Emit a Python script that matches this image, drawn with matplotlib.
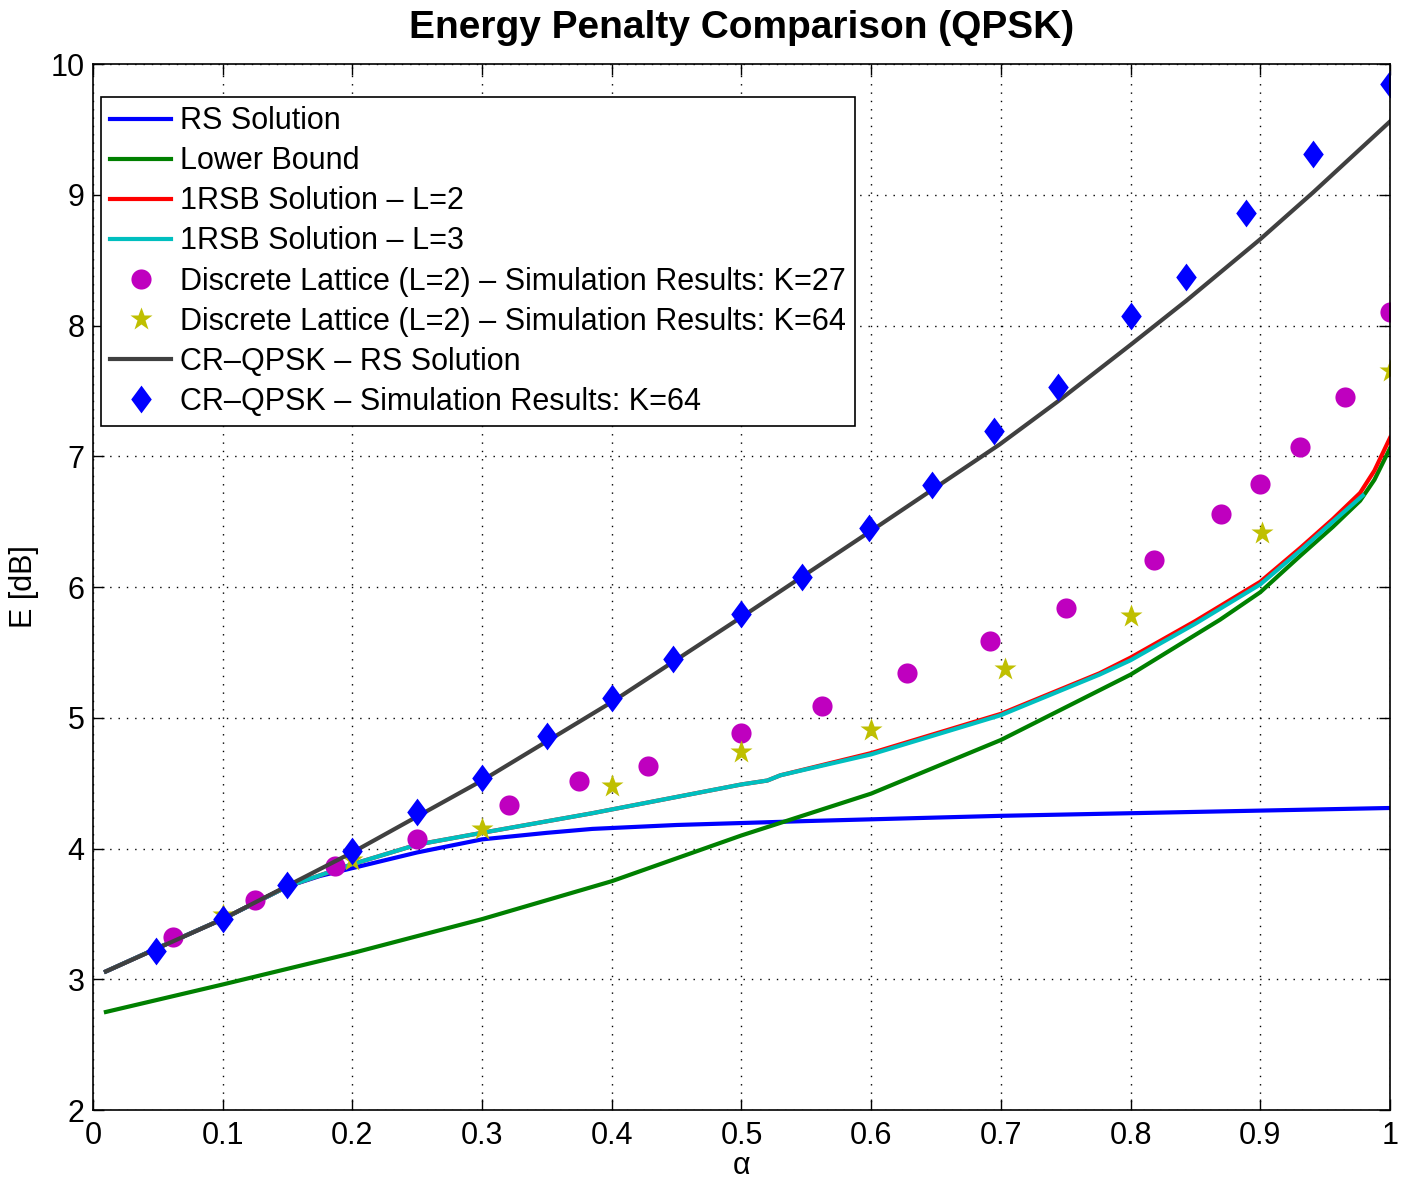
import matplotlib
matplotlib.use("Agg")
import matplotlib.pyplot as plt
import numpy as np

plt.rcParams['font.family'] = ['Liberation Sans', 'DejaVu Sans']

# RS solution
rs_x = [0.01, 0.05, 0.1, 0.15, 0.175, 0.2, 0.25, 0.3, 0.35, 0.385, 0.45, 0.55, 0.7, 0.85, 1.0]
rs_y = [3.06, 3.24, 3.46, 3.71, 3.79, 3.85, 3.97, 4.07, 4.12, 4.15, 4.18, 4.21, 4.25, 4.28, 4.31]

# lower bound
lb_x = [0.01, 0.1, 0.2, 0.3, 0.4, 0.5, 0.6, 0.7, 0.8, 0.869, 0.9, 0.931, 0.956, 0.977, 0.988, 1.0]
lb_y = [2.75, 2.96, 3.2, 3.46, 3.75, 4.1, 4.42, 4.83, 5.33, 5.75, 5.96, 6.24, 6.46, 6.66, 6.82, 7.06]

# 1RSB L=2
r2_x = [0.01, 0.05, 0.1, 0.15, 0.2, 0.25, 0.3, 0.385, 0.5, 0.52, 0.53, 0.6, 0.7, 0.776,
        0.8, 0.85, 0.9, 0.931, 0.956, 0.977, 0.988, 1.0]
r2_y = [3.06, 3.24, 3.46, 3.71, 3.88, 4.03, 4.12, 4.27, 4.49, 4.52, 4.56, 4.73, 5.03, 5.34,
        5.46, 5.74, 6.04, 6.3, 6.52, 6.72, 6.89, 7.14]

# 1RSB L=3
r3_x = [0.01, 0.05, 0.1, 0.15, 0.2, 0.25, 0.3, 0.385, 0.5, 0.52, 0.53, 0.6, 0.7, 0.776,
        0.8, 0.85, 0.9, 0.931, 0.956, 0.979]
r3_y = [3.06, 3.24, 3.46, 3.71, 3.88, 4.03, 4.12, 4.27, 4.49, 4.52, 4.56, 4.72, 5.02, 5.33,
        5.44, 5.72, 6.02, 6.28, 6.5, 6.7]

# discrete lattice K=27
k27_x = [0.062, 0.125, 0.187, 0.25, 0.321, 0.375, 0.428, 0.5, 0.562, 0.628, 0.692,
         0.75, 0.818, 0.87, 0.9, 0.931, 0.965, 1.0]
k27_y = [3.32, 3.61, 3.87, 4.07, 4.33, 4.52, 4.63, 4.88, 5.09, 5.34, 5.59,
         5.84, 6.21, 6.56, 6.79, 7.07, 7.45, 8.1]

# discrete lattice K=64
k64_x = [0.1, 0.2, 0.3, 0.4, 0.5, 0.6, 0.703, 0.8, 0.901, 1.0]
k64_y = [3.49, 3.91, 4.15, 4.48, 4.74, 4.91, 5.37, 5.78, 6.41, 7.65]

# CR-QPSK RS solution
cr_x = [0.01, 0.1, 0.2, 0.3, 0.4, 0.5, 0.6, 0.699, 0.744, 0.801, 0.843, 0.9, 0.941, 1.0]
cr_y = [3.06, 3.46, 3.97, 4.52, 5.12, 5.77, 6.43, 7.09, 7.42, 7.86, 8.19, 8.66, 9.02, 9.56]

# CR-QPSK simulation K=64
crs_x = [0.049, 0.1, 0.15, 0.2, 0.25, 0.3, 0.35, 0.4, 0.447, 0.5, 0.547, 0.598, 0.647,
         0.695, 0.744, 0.8, 0.843, 0.889, 0.941, 1.0]
crs_y = [3.22, 3.46, 3.72, 3.98, 4.28, 4.54, 4.86, 5.15, 5.45, 5.79, 6.08, 6.45, 6.78,
         7.19, 7.53, 8.07, 8.37, 8.86, 9.31, 9.85]

diamond = [(0, 1), (0.74, 0), (0, -1), (-0.74, 0), (0, 1)]

fig = plt.figure(figsize=(14.04, 11.81), dpi=100)
ax = fig.add_axes([0.0662, 0.0601, 0.9238, 0.8857])

lw = 3
ax.plot(rs_x, rs_y, color='#0000ff', lw=lw, label='RS Solution')
ax.plot(lb_x, lb_y, color='#008000', lw=lw, label='Lower Bound')
ax.plot(r2_x, r2_y, color='#ff0000', lw=lw, label='1RSB Solution \u2013 L=2')
ax.plot(r3_x, r3_y, color='#00bfbf', lw=lw, label='1RSB Solution \u2013 L=3')
ax.plot(k27_x, k27_y, 'o', color='#bf00bf', ms=14.5, mec='none',
        label='Discrete Lattice (L=2) \u2013 Simulation Results: K=27')
ax.plot(k64_x, k64_y, '*', color='#bfbf00', ms=17, mec='none',
        label='Discrete Lattice (L=2) \u2013 Simulation Results: K=64')
ax.plot(cr_x, cr_y, color='#404040', lw=lw, label='CR\u2013QPSK \u2013 RS Solution')
ax.plot(crs_x, crs_y, ls='none', marker=diamond, color='#0000ff', ms=20, mec='none',
        label='CR\u2013QPSK \u2013 Simulation Results: K=64')

ax.set_xlim(0, 1)
ax.set_ylim(2, 10)
ax.set_xticks(np.arange(0, 1.01, 0.1))
ax.set_xticklabels(['0', '0.1', '0.2', '0.3', '0.4', '0.5', '0.6', '0.7', '0.8', '0.9', '1'])
ax.set_yticks(range(2, 11))
ax.tick_params(direction='in', top=True, right=True, labelsize=22, length=8, width=1)
ax.tick_params(axis='x', pad=8)
ax.tick_params(axis='y', pad=6)
ax.grid(True, color='black', ls=(0, (1, 5)), lw=1)
for s in ax.spines.values():
    s.set_linewidth(1.2)

ax.set_xlabel('\u03b1', fontsize=22, labelpad=0)
ax.set_ylabel('E [dB]', fontsize=22, labelpad=8)
ax.set_title('Energy Penalty Comparison (QPSK)', fontsize=28, fontweight='bold', pad=19)

leg = ax.legend(loc='upper left', bbox_to_anchor=(0.0062, 0.9684), borderaxespad=0,
                fontsize=22, frameon=True, fancybox=False, edgecolor='black',
                framealpha=1, handlelength=2.0, handletextpad=0.3,
                borderpad=0.3, labelspacing=0.33)
leg.get_frame().set_linewidth(1.2)

fig.savefig('out.png', dpi=100)
